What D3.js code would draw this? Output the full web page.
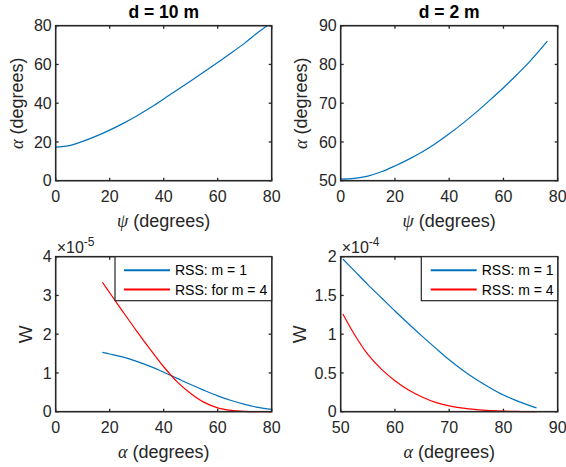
<!DOCTYPE html>
<html><head><meta charset="utf-8">
<script src="https://cdn.jsdelivr.net/npm/d3@7"></script>
<style>body{margin:0;background:#fff}svg{display:block}</style>
</head><body>
<svg id="c" width="566" height="467"></svg>
<script>
// ---------- data ----------
const psiD10 = [0,5,10,15,20,25,30,35,40,45,50,55,60,65,70,75,78.3];
const alphaD10 = [17.3,18.1,20.3,23.0,26.1,29.6,33.4,37.6,42.2,46.8,51.5,56.2,61.0,65.9,71.0,76.6,80.0];

const psiD2 = [0,5,10,15,20,25,30,35,40,45,50,55,60,65,70,76.2];
const alphaD2 = [50.4,50.6,51.2,52.3,53.8,55.5,57.4,59.6,62.1,64.8,67.7,70.8,74.0,77.4,81.0,86.0];

const alphaW10 = [17.3,20,25,30,35,40,45,50,55,60,65,70,75,80];
const wD10m1 = [1.53,1.49,1.41,1.30,1.17,1.02,0.86,0.70,0.55,0.41,0.29,0.19,0.11,0.06]; // x1e-5
const wD10m4 = [3.34,3.07,2.57,2.08,1.61,1.16,0.77,0.47,0.24,0.10,0.035,0.01,0.003,0.0]; // x1e-5

const alphaW2 = [50.4,52.5,55,57.5,60,62.5,65,67.5,70,72.5,75,77.5,80,82.5,85,86.1];
const wD2m1 = [1.97,1.82,1.64,1.47,1.30,1.135,0.975,0.82,0.67,0.535,0.415,0.31,0.215,0.14,0.075,0.05]; // x1e-4
const wD2m4 = [1.26,1.00,0.74,0.55,0.40,0.28,0.19,0.12,0.075,0.045,0.027,0.015,0.007,0.003,0.001,0.0]; // x1e-4

const titles = ["d = 10 m", "d = 2 m"];
const legend10 = ["RSS: m = 1", "RSS: for m = 4"];
const legend2 = ["RSS: m = 1", "RSS: m = 4"];
const ticks0to80 = [0,20,40,60,80];
const ticks50to90 = [50,60,70,80,90];
const ticksW10 = [0,1,2,3,4];
const ticksW2 = [0,0.5,1,1.5,2];

// ---------- style ----------
const AX = "#262626";
const BLUE = "#0072BD", RED = "#FF0000";
const SANS = "'Liberation Sans', Arial, Helvetica, sans-serif";
const SERIF = "'Liberation Serif', 'Times New Roman', serif";
const TICKFS = 16, LABFS = 18, TITLEFS = 17.5;

const svg = d3.select("#c");

function panel(o) {
  const x = d3.scaleLinear().domain(o.xd).range([o.l, o.r]);
  const y = d3.scaleLinear().domain(o.yd).range([o.b, o.t]);
  const g = svg.append("g");
  const tl = 3;
  o.xt.forEach(v => {
    g.append("line").attr("x1", x(v)).attr("x2", x(v)).attr("y1", o.b).attr("y2", o.b - tl).attr("stroke", AX).attr("stroke-width", 1.3);
    g.append("line").attr("x1", x(v)).attr("x2", x(v)).attr("y1", o.t).attr("y2", o.t + tl).attr("stroke", AX).attr("stroke-width", 1.3);
    g.append("text").attr("x", x(v)).attr("y", o.b + 21.5).attr("text-anchor", "middle")
      .attr("font-family", SANS).attr("font-size", TICKFS).attr("fill", AX).text(v);
  });
  o.yt.forEach(v => {
    g.append("line").attr("y1", y(v)).attr("y2", y(v)).attr("x1", o.l).attr("x2", o.l + tl).attr("stroke", AX).attr("stroke-width", 1.3);
    g.append("line").attr("y1", y(v)).attr("y2", y(v)).attr("x1", o.r).attr("x2", o.r - tl).attr("stroke", AX).attr("stroke-width", 1.3);
    g.append("text").attr("x", o.l - 4).attr("y", y(v)).attr("dy", "0.36em").attr("text-anchor", "end")
      .attr("font-family", SANS).attr("font-size", TICKFS).attr("fill", AX).text(v);
  });
  const line = d3.line().x(d => x(d[0])).y(d => y(d[1])).curve(d3.curveCatmullRom.alpha(0.5));
  o.series.forEach(s => {
    g.append("path").attr("d", line(s.xs.map((v, i) => [v, s.ys[i]])))
      .attr("fill", "none").attr("stroke", s.color).attr("stroke-width", 1.2);
  });
  g.append("rect").attr("x", o.l).attr("y", o.t).attr("width", o.r - o.l).attr("height", o.b - o.t)
    .attr("fill", "none").attr("stroke", AX).attr("stroke-width", 1.6);
  if (o.title) {
    g.append("text").attr("x", (o.l + o.r) / 2).attr("y", o.t - 7.4).attr("text-anchor", "middle")
      .attr("font-family", SANS).attr("font-weight", "bold").attr("font-size", TITLEFS).attr("fill", "#000").text(o.title);
  }
  const xl = g.append("text").attr("x", (o.l + o.r) / 2).attr("y", o.b + 46).attr("text-anchor", "middle")
    .attr("font-family", SANS).attr("font-size", LABFS).attr("fill", AX);
  xl.append("tspan").attr("font-family", SERIF).attr("font-style", "italic").text(o.xsym);
  xl.append("tspan").text(" (degrees)");
  const yx = o.ylx, yy = (o.t + o.b) / 2;
  const yl = g.append("text").attr("transform", `translate(${yx},${yy}) rotate(-90)`).attr("text-anchor", "middle")
    .attr("font-family", SANS).attr("font-size", o.ysym ? LABFS : LABFS + 1).attr("fill", AX);
  if (o.ysym) {
    yl.append("tspan").attr("font-family", SERIF).attr("font-style", "italic").text(o.ysym);
    yl.append("tspan").text(" (degrees)");
  } else {
    yl.text(o.ytext);
  }
  if (o.exp) {
    const e = g.append("text").attr("x", o.l + 1).attr("y", o.t - 3.5)
      .attr("font-family", SANS).attr("font-size", 16).attr("fill", AX);
    e.append("tspan").text("\u00d710");
    e.append("tspan").attr("dy", -7).attr("font-size", 12).text(o.exp);
  }
  if (o.legend) {
    const L = o.legend;
    g.append("rect").attr("x", L.x0).attr("y", o.t).attr("width", o.r - L.x0).attr("height", 44)
      .attr("fill", "#fff").attr("stroke", AX).attr("stroke-width", 1.2);
    L.items.forEach((it, i) => {
      const yy2 = o.t + 13.5 + i * 19.3;
      g.append("line").attr("x1", L.lx0).attr("x2", L.lx0 + 46).attr("y1", yy2).attr("y2", yy2)
        .attr("stroke", it.color).attr("stroke-width", 2);
      g.append("text").attr("x", L.lx0 + 51).attr("y", yy2).attr("dy", "0.36em")
        .attr("font-family", SANS).attr("font-size", 14).attr("fill", "#000").text(it.label);
    });
  }
}

panel({ l: 55.7, r: 271.7, t: 25.7, b: 180.7, xd: [0, 80], yd: [0, 80], xt: ticks0to80, yt: ticks0to80,
  series: [{ xs: psiD10, ys: alphaD10, color: BLUE }], title: titles[0], xsym: "\u03c8", ysym: "\u03b1", ylx: 23 });
panel({ l: 340.7, r: 557.7, t: 25.7, b: 180.7, xd: [0, 80], yd: [50, 90], xt: ticks0to80, yt: ticks50to90,
  series: [{ xs: psiD2, ys: alphaD2, color: BLUE }], title: titles[1], xsym: "\u03c8", ysym: "\u03b1", ylx: 307 });
panel({ l: 55.7, r: 271.7, t: 256.7, b: 411.7, xd: [0, 80], yd: [0, 4], xt: ticks0to80, yt: ticksW10,
  series: [{ xs: alphaW10, ys: wD10m1, color: BLUE }, { xs: alphaW10, ys: wD10m4, color: RED }],
  xsym: "\u03b1", ytext: "W", ylx: 31.5, exp: "-5",
  legend: { x0: 115, lx0: 124, items: [{ color: BLUE, label: legend10[0] }, { color: RED, label: legend10[1] }] } });
panel({ l: 340.7, r: 557.7, t: 256.7, b: 411.7, xd: [50, 90], yd: [0, 2], xt: ticks50to90, yt: ticksW2,
  series: [{ xs: alphaW2, ys: wD2m1, color: BLUE }, { xs: alphaW2, ys: wD2m4, color: RED }],
  xsym: "\u03b1", ytext: "W", ylx: 306, exp: "-4",
  legend: { x0: 421.3, lx0: 430.7, items: [{ color: BLUE, label: legend2[0] }, { color: RED, label: legend2[1] }] } });
</script>
</body></html>
